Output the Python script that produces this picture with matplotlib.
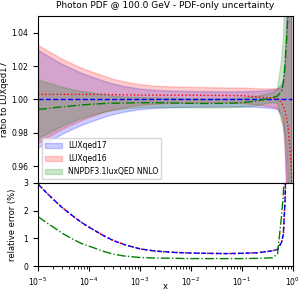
import numpy as np
import matplotlib
matplotlib.use('Agg')
import matplotlib.pyplot as plt

# x grid
x = np.array([1e-5, 1.5e-5, 2e-5, 3e-5, 5e-5, 7e-5, 1e-4, 2e-4, 3e-4, 5e-4,
              1e-3, 2e-3, 5e-3, 1e-2, 2e-2, 5e-2, 0.1, 0.2, 0.3, 0.4,
              0.5, 0.6, 0.65, 0.7, 0.75, 0.8, 0.85, 0.9, 0.95])

# relative errors in percent (bottom panel)
err_lux17 = np.array([2.95, 2.62, 2.40, 2.10, 1.78, 1.58, 1.40, 1.08, 0.92, 0.77,
                      0.62, 0.54, 0.49, 0.47, 0.46, 0.45, 0.46, 0.48, 0.52, 0.55,
                      0.60, 0.86, 1.15, 2.3, 4.5, 8.0, 12.0, 18.0, 30.0])
err_lux16 = np.array([2.95, 2.62, 2.40, 2.10, 1.78, 1.58, 1.40, 1.08, 0.92, 0.77,
                      0.62, 0.54, 0.49, 0.47, 0.46, 0.45, 0.46, 0.48, 0.52, 0.55,
                      0.60, 0.86, 1.15, 2.3, 4.5, 8.0, 12.0, 18.0, 30.0])
err_nnpdf = np.array([1.78, 1.55, 1.40, 1.18, 0.95, 0.82, 0.72, 0.52, 0.43, 0.36,
                      0.31, 0.29, 0.28, 0.27, 0.27, 0.27, 0.27, 0.28, 0.29, 0.30,
                      0.45, 1.8, 2.6, 4.0, 6.0, 9.0, 13.0, 18.0, 28.0])

# central values as ratio to LUXqed17 (top panel)
ratio_lux17 = np.ones(len(x))
ratio_lux16 = np.array([1.003, 1.003, 1.003, 1.003, 1.003, 1.003, 1.003, 1.003, 1.0028, 1.0027,
                        1.0026, 1.0025, 1.0025, 1.0025, 1.0024, 1.0023, 1.0022, 1.0015, 1.001, 1.0008,
                        1.0005, 0.998, 0.996, 0.993, 0.989, 0.984, 0.975, 0.965, 0.95])
ratio_nnpdf = np.array([0.994, 0.9945, 0.995, 0.9955, 0.9962, 0.9966, 0.997, 0.9975, 0.9977, 0.9978,
                        0.998, 0.998, 0.9978, 0.9976, 0.9975, 0.9976, 0.998, 0.999, 1.0003, 1.001,
                        1.002, 1.005, 1.01, 1.02, 1.035, 1.05, 1.07, 1.09, 1.12])

labels = ['LUXqed17', 'LUXqed16', 'NNPDF3.1luxQED NNLO']
colors = ['b', 'r', 'g']
styles = ['--', ':', '-.']

fig = plt.figure(figsize=(3.07, 2.96), dpi=100)
gs = fig.add_gridspec(2, 1, height_ratios=[2, 1], hspace=0)
ax1 = fig.add_subplot(gs[0])
ax2 = fig.add_subplot(gs[1], sharex=ax1)
fig.subplots_adjust(left=0.124, right=0.954, top=0.946, bottom=0.101)

ratios = [ratio_lux17, ratio_lux16, ratio_nnpdf]
errs = [err_lux17, err_lux16, err_nnpdf]

for r, e, c, lab in zip(ratios, errs, colors, labels):
    ax1.fill_between(x, r * (1 - e / 100), r * (1 + e / 100), color=c, alpha=0.2, lw=1, label=lab)
for r, c, ls in zip(ratios, colors, styles):
    ax1.plot(x, r, color=c, ls=ls, lw=1)

ax1.set_xscale('log')
ax1.set_xlim(1e-5, 1)
ax1.set_ylim(0.95, 1.05)
ax1.set_yticks([0.96, 0.98, 1.00, 1.02, 1.04])
ax1.set_ylabel('ratio to LUXqed17', fontsize=6, labelpad=2)
ax1.set_title('Photon PDF @ 100.0 GeV - PDF-only uncertainty', fontsize=6.5)
ax1.tick_params(labelsize=5.5, labelbottom=False)
ax1.legend(loc='lower left', fontsize=5.5, handlelength=2.2)

ax2.plot(x, err_lux16, color='r', ls=':', lw=1.2)
ax2.plot(x, err_lux17, color='b', ls='--', lw=1)
ax2.plot(x, err_nnpdf, color='g', ls='-.', lw=1)
ax2.set_ylim(0, 3)
ax2.set_yticks([0, 1, 2, 3])
ax2.set_ylabel('relative error (%)', fontsize=6, labelpad=5)
ax2.set_xlabel('x', fontsize=6)
ax2.xaxis.set_label_coords(0.5, -0.19)
ax2.tick_params(labelsize=5.5)

fig.savefig('out.png', dpi=100)
